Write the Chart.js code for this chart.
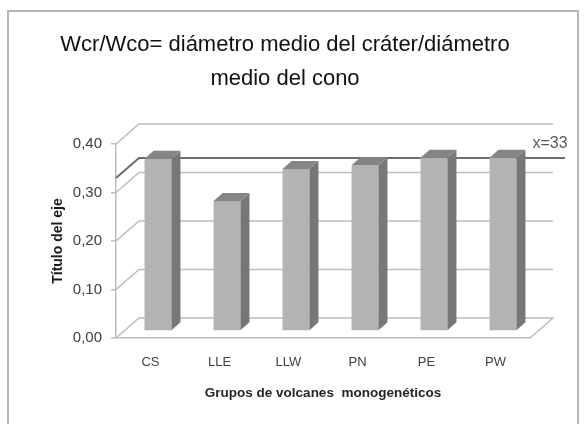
<!DOCTYPE html>
<html>
<head>
<meta charset="utf-8">
<script src="https://cdn.jsdelivr.net/npm/chart.js@4"></script>
<style>
  html, body { margin: 0; padding: 0; background: #fff; }
</style>
</head>
<body>
<canvas id="barChart" width="586" height="424"></canvas>
<script>
const groups = ["CS", "LLE", "LLW", "PN", "PE", "PW"];
const ratioValues = [0.355, 0.268, 0.334, 0.342, 0.357, 0.357];
const yTickValues = [0, 0.1, 0.2, 0.3, 0.4];
const meanValue = 0.33;
const meanLabel = "x=33";

const titleLines = ["Wcr/Wco= diámetro medio del cráter/diámetro", "medio del cono"];

// fake 3d: back wall offset, bar offset and bar depth
const WALL_DX = 23, WALL_DY = -20;
const BAR_DX = 7.5, BAR_DY = -7;
const SIDE_DX = 9, SIDE_DY = -8;

const gridColor = "#bdbdbd";

Chart.defaults.font.family = "'Liberation Sans', Arial, sans-serif";

const fake3d = {
  id: "fake3d",
  beforeDraw(chart) {
    const ctx = chart.ctx;
    ctx.save();
    ctx.fillStyle = "#fff";
    ctx.fillRect(0, 0, chart.width, chart.height);
    ctx.strokeStyle = "#b4b4b4";
    ctx.lineWidth = 2;
    ctx.strokeRect(8, 11, 570, 430);
    ctx.restore();
  },
  beforeDatasetsDraw(chart) {
    const ctx = chart.ctx;
    const area = chart.chartArea;
    const y = chart.scales.y;

    ctx.save();
    ctx.lineWidth = 1.5;
    ctx.strokeStyle = gridColor;
    y.ticks.forEach((t) => {
      const py = y.getPixelForValue(t.value);
      ctx.beginPath();
      ctx.moveTo(area.left, py);
      ctx.lineTo(area.left + WALL_DX, py + WALL_DY);
      ctx.lineTo(area.right + WALL_DX, py + WALL_DY);
      if (t.value === 0) ctx.lineTo(area.right, py);
      ctx.stroke();
    });

    // mean line
    const my = y.getPixelForValue(meanValue);
    ctx.strokeStyle = "#6e6e6e";
    ctx.lineWidth = 2;
    ctx.beginPath();
    ctx.moveTo(area.left, my);
    ctx.lineTo(area.left + WALL_DX, my + WALL_DY);
    ctx.lineTo(area.right + WALL_DX + 12, my + WALL_DY);
    ctx.stroke();
    ctx.fillStyle = "#5a5a5a";
    ctx.font = "16px 'Liberation Sans', Arial, sans-serif";
    ctx.textAlign = "center";
    ctx.textBaseline = "middle";
    ctx.fillText(meanLabel, area.right + WALL_DX - 3, my + WALL_DY - 14);
    ctx.restore();

    ctx.save();
    ctx.translate(BAR_DX, BAR_DY);
  },
  afterDatasetsDraw(chart) {
    const ctx = chart.ctx;
    const meta = chart.getDatasetMeta(0);
    meta.data.forEach((bar) => {
      const { x, y, base, width } = bar.getProps(["x", "y", "base", "width"], true);
      const xl = x - width / 2;
      const xr = x + width / 2;
      ctx.fillStyle = "#777777";
      ctx.beginPath();
      ctx.moveTo(xr, y);
      ctx.lineTo(xr + SIDE_DX, y + SIDE_DY);
      ctx.lineTo(xr + SIDE_DX, base + SIDE_DY);
      ctx.lineTo(xr, base);
      ctx.closePath();
      ctx.fill();
      ctx.fillStyle = "#858585";
      ctx.beginPath();
      ctx.moveTo(xl, y);
      ctx.lineTo(xr, y);
      ctx.lineTo(xr + SIDE_DX, y + SIDE_DY);
      ctx.lineTo(xl + SIDE_DX, y + SIDE_DY);
      ctx.closePath();
      ctx.fill();
    });
    ctx.restore();
  },
};

new Chart(document.getElementById("barChart").getContext("2d"), {
  type: "bar",
  data: {
    labels: groups,
    datasets: [
      {
        data: ratioValues,
        backgroundColor: "#b3b3b3",
        borderWidth: 0,
        categoryPercentage: 1,
        barPercentage: 0.39,
      },
    ],
  },
  options: {
    responsive: false,
    animation: false,
    layout: { padding: { left: 40, right: 56, top: 28, bottom: 0 } },
    plugins: {
      legend: { display: false },
      tooltip: { enabled: false },
      title: {
        display: true,
        text: titleLines,
        color: "#111111",
        font: { size: 22, weight: "normal", lineHeight: 34 / 22 },
        padding: { top: 0, bottom: 48 },
      },
    },
    scales: {
      x: {
        grid: { display: false, drawTicks: false },
        border: { display: true, color: gridColor, width: 1.5 },
        ticks: { color: "#404040", font: { size: 13 }, padding: 17 },
        title: {
          display: true,
          text: "Grupos de volcanes  monogenéticos",
          color: "#262626",
          font: { size: 13.5, weight: "bold" },
          padding: { top: 0, bottom: 23 },
        },
        afterFit(scale) {
          scale.height = 86;
        },
      },
      y: {
        min: 0,
        max: 0.4,
        afterBuildTicks(scale) {
          scale.ticks = yTickValues.map((v) => ({ value: v }));
        },
        grid: { drawOnChartArea: false, drawTicks: true, tickLength: 5, color: gridColor, lineWidth: 1.5 },
        border: { display: true, color: gridColor, width: 1.5 },
        ticks: {
          color: "#404040",
          font: { size: 15 },
          padding: 9,
          callback: (v) => Number(v).toFixed(2).replace(".", ","),
        },
        title: {
          display: true,
          text: "Título del eje",
          color: "#1a1a1a",
          font: { size: 14, weight: "bold" },
          padding: { top: 10, bottom: 0 },
        },
        afterFit(scale) {
          scale.width = 76;
        },
      },
    },
  },
  plugins: [fake3d],
});
</script>
</body>
</html>
